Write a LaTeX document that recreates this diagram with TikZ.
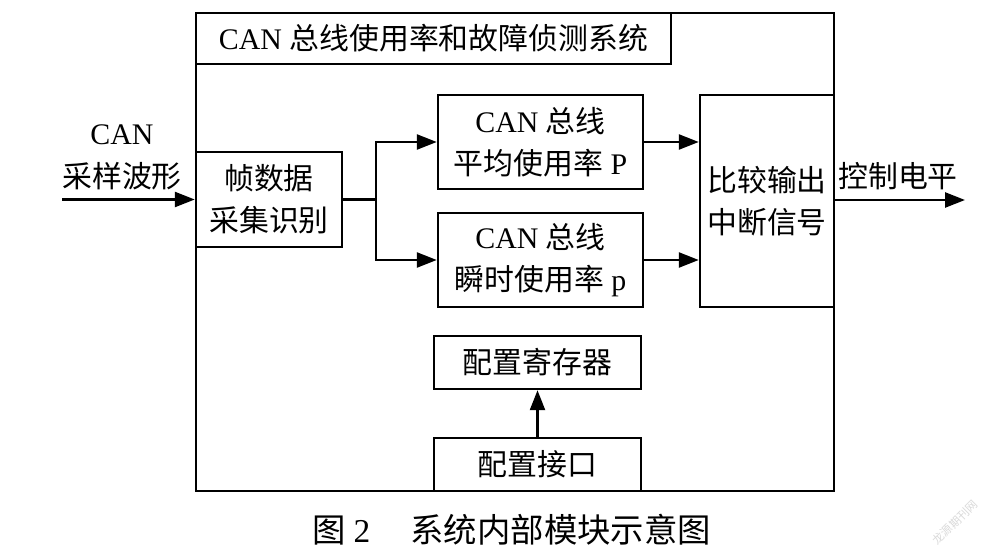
\documentclass[tikz,border=0pt]{standalone}
\usepackage{fontspec}
\setmainfont{Liberation Serif}
\newfontfamily\cjk{Noto Sans CJK SC}
\usetikzlibrary{arrows.meta,positioning}
\tikzset{
  blk/.style={draw,line width=1.4pt,inner sep=0pt,align=center,font=\fontsize{17}{24}\selectfont},
  arr/.style={line width=1.4pt,-{Triangle[length=4mm,width=3mm]}},
  ln/.style={line width=1.4pt}
}
\begin{document}
\begin{tikzpicture}
\useasboundingbox (0,0) rectangle (20.16,-10.98);
% 定义各点
\coordinate (in) at (1.24,-3.99);
\coordinate (br) at (7.52,-3.99);
\coordinate (out) at (19.3,-4.0);

% 外框与标题
\node[blk,minimum width=12.76cm,minimum height=9.56cm] (sys) at (10.3,-5.04) {};
\node[blk,minimum width=9.5cm,minimum height=1.02cm] (title) at (8.67,-0.77) {CAN {\cjk 总线使用率和故障侦测系统}};

% 模块
\node[blk,minimum width=2.92cm,minimum height=1.9cm] (frame) at (5.38,-3.99) {\cjk 帧数据\\\cjk 采集识别};
\node[blk,minimum width=4.1cm,minimum height=1.88cm] (avg) at (10.81,-2.84) {CAN {\cjk 总线}\\{\cjk 平均使用率} P};
\node[blk,minimum width=4.1cm,minimum height=1.88cm] (inst) at (10.81,-5.2) {CAN {\cjk 总线}\\{\cjk 瞬时使用率} p};
\node[blk,minimum width=2.68cm,minimum height=4.24cm] (cmp) at (15.34,-4.02) {\cjk 比较输出\\\cjk 中断信号};
\node[blk,minimum width=4.14cm,minimum height=1.06cm] (reg) at (10.75,-7.25) {\cjk 配置寄存器};
\node[blk,minimum width=4.14cm,minimum height=1.06cm] (port) at (10.75,-9.29) {\cjk 配置接口};

% 连线
\draw[arr] (in) -- (frame.west);
\draw[ln] (frame.east) -- (br);
\draw[arr] (br) |- (avg.west);
\draw[arr] (br) |- (inst.west);
\draw[arr] (avg.east) -- (avg.east -| cmp.west);
\draw[arr] (inst.east) -- (inst.east -| cmp.west);
\draw[arr] (cmp.east |- out) -- (out);
\draw[arr] (port.north) -- (reg.south);

% 文字标注
\node[align=center,font=\fontsize{17}{24.5}\selectfont] (inlab) at (2.44,-3.14) {CAN\\\cjk 采样波形};
\node[font=\cjk\fontsize{17}{24}\selectfont] (outlab) at (17.96,-3.52) {控制电平};
\node[font=\fontsize{19}{24}\selectfont] (cap) at (10.23,-10.6) {{\cjk 图} 2\hspace{1.2em}{\cjk 系统内部模块示意图}};
\node[rotate=45,text=black!15,font=\cjk\fontsize{6.5}{6.5}\selectfont] (wm) at (19.1,-10.45) {龙源期刊网};
\end{tikzpicture}
\end{document}
